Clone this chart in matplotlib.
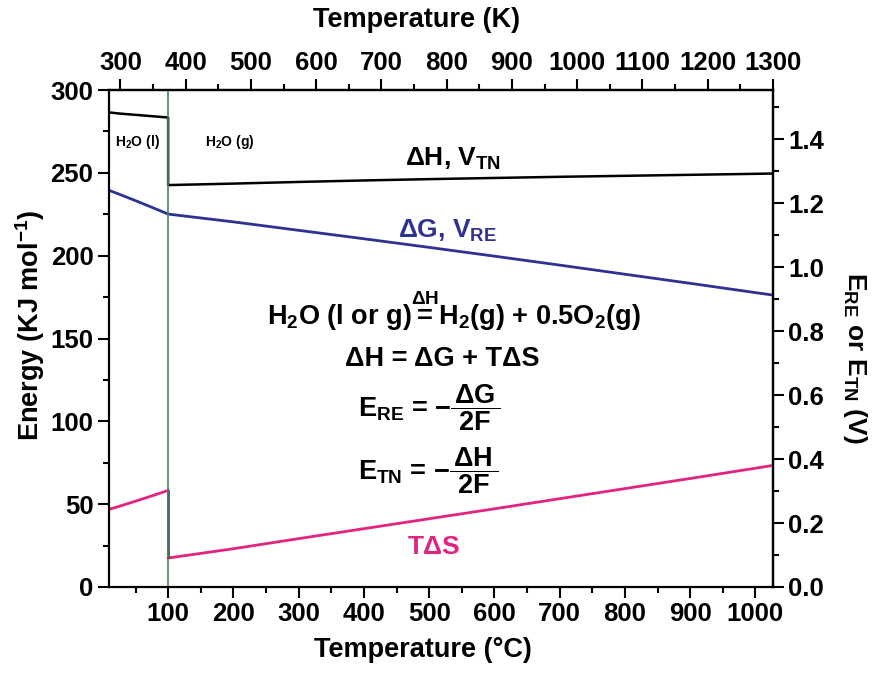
import matplotlib
matplotlib.use('Agg')
import matplotlib.pyplot as plt
from matplotlib.ticker import MultipleLocator, FormatStrFormatter

plt.rcParams['font.family'] = ['Liberation Sans', 'DejaVu Sans']
plt.rcParams['font.weight'] = 'bold'
plt.rcParams['mathtext.fontset'] = 'custom'
plt.rcParams['mathtext.rm'] = 'Liberation Sans:bold'
plt.rcParams['mathtext.it'] = 'Liberation Sans:bold'
plt.rcParams['mathtext.bf'] = 'Liberation Sans:bold'
plt.rcParams['mathtext.sf'] = 'Liberation Sans:bold'

# ---- data ----
t_liq = [9, 25, 50, 75, 100]                      # deg C, liquid water
dH_liq = [286.5, 285.8, 285.0, 284.2, 283.4]      # kJ/mol
dG_liq = [239.5, 237.1, 233.2, 229.2, 225.1]
TdS_liq = [46.8, 48.7, 51.8, 55.0, 58.3]

t_gas = [100, 200, 300, 400, 500, 600, 700, 800, 900, 1000, 1027]   # deg C, steam
dH_gas = [242.6, 243.5, 244.5, 245.4, 246.2, 246.9, 247.6, 248.2, 248.8, 249.4, 249.6]
dG_gas = [225.1, 220.4, 215.3, 210.2, 205.0, 199.7, 194.3, 188.8, 183.3, 177.7, 176.2]
TdS_gas = [17.5, 23.1, 29.2, 35.2, 41.2, 47.2, 53.3, 59.4, 65.5, 71.7, 73.4]

c_ticks = [100, 200, 300, 400, 500, 600, 700, 800, 900, 1000]
k_ticks = [300, 400, 500, 600, 700, 800, 900, 1000, 1100, 1200, 1300]
e_ticks = [0, 50, 100, 150, 200, 250, 300]
v_ticks = [0.0, 0.2, 0.4, 0.6, 0.8, 1.0, 1.2, 1.4]
TWO_F = 192.97  # kJ/mol per V

BLUE = '#2e3192'
PINK = '#e2237f'
GREEN = '#3f8a5a'

fig = plt.figure(figsize=(8.8, 6.8), dpi=100)
ax = fig.add_axes([108.75 / 880, 1 - 587 / 680, (773 - 108.75) / 880, (587 - 90) / 680])

ax.plot(t_liq + t_gas, dH_liq + dH_gas, color='black', lw=1.8)
ax.plot(t_liq + t_gas, dG_liq + dG_gas, color=BLUE, lw=2.0)
ax.plot(t_liq, TdS_liq, color=PINK, lw=2.0)
ax.plot(t_gas, TdS_gas, color=PINK, lw=2.0)
ax.vlines(t_liq[-1], TdS_gas[0], TdS_liq[-1], color='#333333', lw=1.8)
ax.axvline(100, color=GREEN, lw=1.2)

ax.set_xlim(9, 1027)
ax.set_ylim(0, 300)
ax.set_xticks(c_ticks)
ax.xaxis.set_minor_locator(MultipleLocator(50))
ax.set_yticks(e_ticks)
ax.yaxis.set_minor_locator(MultipleLocator(25))

for s in ax.spines.values():
    s.set_linewidth(1.6)

TS = 18.5
tick_kw = dict(direction='out', width=1.5, labelsize=TS)
ax.tick_params(which='major', length=8, pad=3, **tick_kw)
ax.tick_params(which='minor', length=4.5, direction='out', width=1.5)

top = ax.secondary_xaxis('top', functions=(lambda c: c + 273.15, lambda k: k - 273.15))
top.set_xticks(k_ticks)
top.xaxis.set_minor_locator(MultipleLocator(50))
top.tick_params(which='major', length=8, pad=3, **tick_kw)
top.tick_params(which='minor', length=4.5, direction='out', width=1.5)
top.spines['top'].set_linewidth(1.6)

right = ax.secondary_yaxis('right', functions=(lambda e: e / TWO_F, lambda v: v * TWO_F))
right.set_yticks(v_ticks)
right.yaxis.set_major_formatter(FormatStrFormatter('%.1f'))
right.yaxis.set_minor_locator(MultipleLocator(0.1))
right.tick_params(which='major', length=8, pad=3, **tick_kw)
right.tick_params(which='minor', length=4.5, direction='out', width=1.5)
right.spines['right'].set_linewidth(1.6)

for lab in ax.get_xticklabels() + ax.get_yticklabels() + top.get_xticklabels() + right.get_yticklabels():
    lab.set_fontweight('bold')

# axis titles
fig.text(417 / 880, 1 - 20 / 680, 'Temperature (K)', ha='center', va='center', fontsize=19.5, fontweight='bold')
fig.text(423 / 880, 1 - 650 / 680, 'Temperature (\u00b0C)', ha='center', va='center', fontsize=19.5,
         fontweight='bold')
fig.text(30 / 880, 1 - 325 / 680, 'Energy (KJ mol$^{-1}$)', ha='center', va='center', rotation=90,
         fontsize=19.5, fontweight='bold')
fig.text(855 / 880, 1 - 358 / 680, 'E$_{RE}$ or E$_{TN}$ (V)', ha='center', va='center', rotation=270,
         fontsize=19, fontweight='bold')

# annotations
FS = 19.5
ax.text(53, 268.6, 'H$_2$O (l)', ha='center', va='center', fontsize=10, fontweight='bold')
ax.text(194, 268.6, 'H$_2$O (g)', ha='center', va='center', fontsize=10, fontweight='bold')
ax.text(463.5, 258.3, '\u0394H, V$_{TN}$', ha='left', va='center', fontsize=19, fontweight='bold')
ax.text(452.8, 214.8, '\u0394G, V$_{RE}$', ha='left', va='center', fontsize=19, fontweight='bold', color=BLUE)
ax.text(466.6, 24.4, 'T\u0394S', ha='left', va='center', fontsize=19, fontweight='bold', color=PINK)

ax.text(251.8, 166.6, r'H$_2$O (l or g)$\overset{\Delta H}{=}$H$_2$(g) + 0.5O$_2$(g)', ha='left', va='center',
        fontsize=FS, fontweight='bold')
ax.text(371.5, 137.6, '\u0394H = \u0394G + T\u0394S', ha='left', va='center', fontsize=FS, fontweight='bold')
ax.text(391.4, 102.6, r'E$_{RE}$ = $-\dfrac{\,\Delta G\,}{2F}$', ha='left', va='baseline', fontsize=FS,
        fontweight='bold')
ax.text(391.4, 64.6, r'E$_{TN}$ = $-\dfrac{\,\Delta H\,}{2F}$', ha='left', va='baseline', fontsize=FS,
        fontweight='bold')

fig.savefig('out.png', dpi=100)
